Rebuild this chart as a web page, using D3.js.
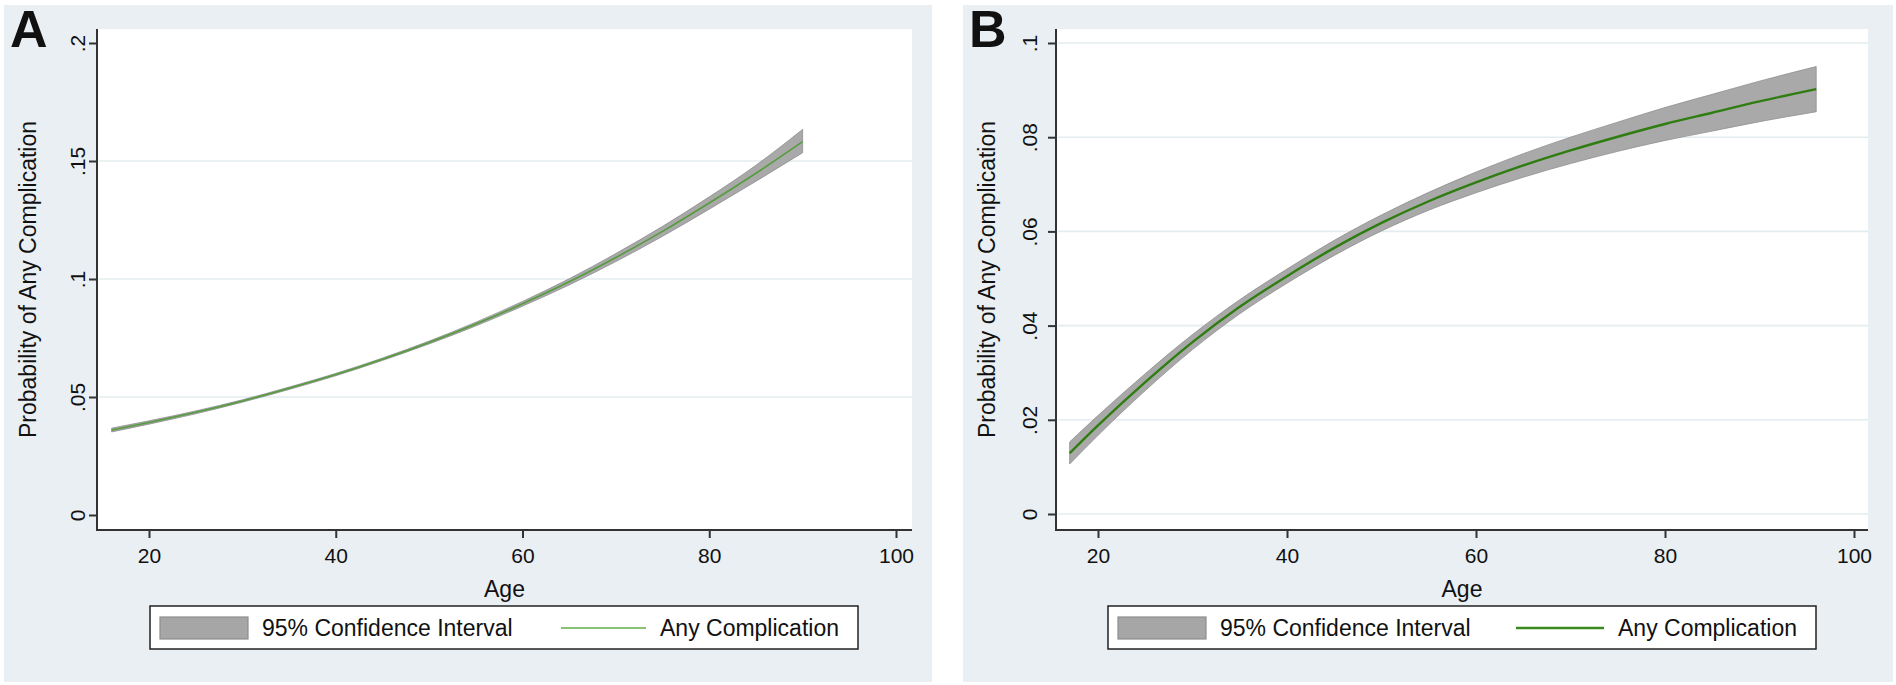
<!DOCTYPE html>
<html>
  <head>
    <title></title>
    <script src="https://cdnjs.cloudflare.com/ajax/libs/d3/7.8.5/d3.min.js"></script>
    <style>
      body { margin: 0; background: #fff; }
      text { font-family: "Liberation Sans", Arial, sans-serif; fill: #111; }
    </style>
  </head>
  <body>
    <script type="text/javascript">

    // panel A
    let agesA = [16, 20, 25, 30, 35, 40, 45, 50, 55, 60, 65, 70, 75, 80, 85, 90];
    let probA = [0.0360, 0.0392, 0.0435, 0.0483, 0.0537, 0.0595, 0.0660, 0.0731, 0.0809, 0.0895, 0.0988, 0.1091, 0.1202, 0.1322, 0.1448, 0.1582];
    let lowA  = [0.0352, 0.0385, 0.0429, 0.0478, 0.0532, 0.0590, 0.0655, 0.0725, 0.0801, 0.0885, 0.0975, 0.1074, 0.1181, 0.1296, 0.1414, 0.1535];
    let highA = [0.0368, 0.0399, 0.0441, 0.0488, 0.0542, 0.0600, 0.0665, 0.0737, 0.0817, 0.0905, 0.1001, 0.1108, 0.1223, 0.1348, 0.1482, 0.1634];

    // panel B
    let agesB = [17, 20, 25, 30, 35, 40, 45, 50, 55, 60, 65, 70, 75, 80, 85, 90, 96];
    let probB = [0.0129, 0.0188, 0.0280, 0.0365, 0.0440, 0.0505, 0.0565, 0.0618, 0.0664, 0.0704, 0.0740, 0.0772, 0.0801, 0.0828, 0.0852, 0.0876, 0.0902];
    let lowB  = [0.0106, 0.0167, 0.0262, 0.0349, 0.0425, 0.0490, 0.0549, 0.0601, 0.0645, 0.0682, 0.0715, 0.0744, 0.0770, 0.0793, 0.0813, 0.0833, 0.0854];
    let highB = [0.0153, 0.0209, 0.0298, 0.0381, 0.0455, 0.0520, 0.0581, 0.0635, 0.0683, 0.0726, 0.0765, 0.0800, 0.0832, 0.0863, 0.0891, 0.0919, 0.0950];

    let xTicks = [20, 40, 60, 80, 100];
    let yTicksA = [0, 0.05, 0.1, 0.15, 0.2];
    let yTicksB = [0, 0.02, 0.04, 0.06, 0.08, 0.1];
    let gridA = [0.05, 0.1, 0.15];
    let gridB = [0, 0.02, 0.04, 0.06, 0.08, 0.1];

    let fmt = v => v === 0 ? "0" : String(v).replace(/^0/, "");

    let svg = d3.select("body").append("svg")
      .attr("width", 1896)
      .attr("height", 685);

    let panels = [
      { letter: "A", bg: [4, 5, 932, 682], plot: [97, 29, 912, 530],
        x: d3.scaleLinear().domain([20, 100]).range([149, 896]),
        y: d3.scaleLinear().domain([0, 0.2]).range([515, 43]),
        ages: agesA, prob: probA, low: lowA, high: highA,
        yTicks: yTicksA, grid: gridA, labelOff: 12,
        lineColor: "#559c3d", lineWidth: 1.6, legColor: "#88c274", legWidth: 2,
        legend: [150, 606, 858, 649], legLine: [561, 646] },
      { letter: "B", bg: [963, 5, 1893, 682], plot: [1056, 29, 1868, 530],
        x: d3.scaleLinear().domain([20, 100]).range([1098, 1854]),
        y: d3.scaleLinear().domain([0, 0.1]).range([514, 43]),
        ages: agesB, prob: probB, low: lowB, high: highB,
        yTicks: yTicksB, grid: gridB, labelOff: 19,
        lineColor: "#2f7d10", lineWidth: 2.4, legColor: "#3b8a1e", legWidth: 2.6,
        legend: [1108, 606, 1816, 649], legLine: [1516, 1604] }
    ];

    panels.forEach(function(p) {
      let g = svg.append("g");
      let [x0, y0, x1, y1] = p.plot;

      g.append("rect")
        .attr("x", p.bg[0]).attr("y", p.bg[1])
        .attr("width", p.bg[2] - p.bg[0]).attr("height", p.bg[3] - p.bg[1])
        .attr("fill", "#e9eff2");

      g.append("rect")
        .attr("x", x0).attr("y", y0)
        .attr("width", x1 - x0).attr("height", y1 - y0)
        .attr("fill", "#fff");

      g.selectAll(".grid").data(p.grid).enter().append("line")
        .attr("x1", x0 + 2).attr("x2", x1)
        .attr("y1", d => p.y(d)).attr("y2", d => p.y(d))
        .attr("stroke", "#e3ecee").attr("stroke-width", 1.6);

      let rows = p.ages.map((a, i) => ({ age: a, p: p.prob[i], lo: p.low[i], hi: p.high[i] }));

      let area = d3.area().curve(d3.curveMonotoneX)
        .x(d => p.x(d.age)).y0(d => p.y(d.lo)).y1(d => p.y(d.hi));
      g.append("path").attr("d", area(rows))
        .attr("fill", "#a9a9a9").attr("stroke", "#8e8e8e").attr("stroke-width", 0.8);

      let line = d3.line().curve(d3.curveMonotoneX)
        .x(d => p.x(d.age)).y(d => p.y(d.p));
      g.append("path").attr("d", line(rows))
        .attr("fill", "none").attr("stroke", p.lineColor).attr("stroke-width", p.lineWidth);

      // axes
      let xAxis = g.append("g").attr("transform", "translate(0," + y1 + ")")
        .call(d3.axisBottom(p.x).tickValues(xTicks).tickSize(8).tickPadding(10));
      xAxis.select(".domain").remove();
      xAxis.selectAll("line").attr("stroke", "#333").attr("stroke-width", 2);
      xAxis.selectAll("text").attr("font-size", 21).attr("fill", "#111")
        .attr("font-family", "Liberation Sans, Arial, sans-serif");

      let yAxis = g.append("g").attr("transform", "translate(" + x0 + ",0)")
        .call(d3.axisLeft(p.y).tickValues(p.yTicks).tickSize(8).tickFormat(fmt));
      yAxis.select(".domain").remove();
      yAxis.selectAll("line").attr("stroke", "#333").attr("stroke-width", 2);
      yAxis.selectAll("text")
        .attr("x", 0).attr("dy", null)
        .attr("text-anchor", "middle")
        .attr("transform", "translate(" + (-p.labelOff) + ",0) rotate(-90)")
        .attr("font-size", 21).attr("fill", "#111")
        .attr("font-family", "Liberation Sans, Arial, sans-serif");

      g.append("line").attr("x1", x0).attr("x2", x0).attr("y1", y0).attr("y2", y1 + 1)
        .attr("stroke", "#333").attr("stroke-width", 2);
      g.append("line").attr("x1", x0 - 1).attr("x2", x1).attr("y1", y1).attr("y2", y1)
        .attr("stroke", "#333").attr("stroke-width", 2);

      g.append("text").text("Age")
        .attr("x", (x0 + x1) / 2).attr("y", 597)
        .attr("text-anchor", "middle").attr("font-size", 23);

      g.append("text").text("Probability of Any Complication")
        .attr("transform", "translate(" + (p.bg[0] + 32) + "," + ((y0 + y1) / 2) + ") rotate(-90)")
        .attr("text-anchor", "middle").attr("font-size", 23);

      g.append("text").text(p.letter)
        .attr("x", p.bg[0] + 6).attr("y", 47)
        .attr("font-size", 52).attr("font-weight", "bold").attr("fill", "#000");

      // legend
      let [lx0, ly0, lx1, ly1] = p.legend;
      let lg = g.append("g");
      lg.append("rect").attr("x", lx0).attr("y", ly0)
        .attr("width", lx1 - lx0).attr("height", ly1 - ly0)
        .attr("fill", "#fff").attr("stroke", "#222").attr("stroke-width", 1.5);
      lg.append("rect").attr("x", lx0 + 10).attr("y", ly0 + 11)
        .attr("width", 88).attr("height", 22)
        .attr("fill", "#a6a6a6").attr("stroke", "#8e8e8e").attr("stroke-width", 1.2);
      lg.append("text").text("95% Confidence Interval")
        .attr("x", lx0 + 112).attr("y", ly0 + 30).attr("font-size", 23);
      lg.append("line").attr("x1", p.legLine[0]).attr("x2", p.legLine[1])
        .attr("y1", ly0 + 22).attr("y2", ly0 + 22)
        .attr("stroke", p.legColor).attr("stroke-width", p.legWidth);
      lg.append("text").text("Any Complication")
        .attr("x", p.legLine[1] + 14).attr("y", ly0 + 30).attr("font-size", 23);
    });

    </script>
  </body>
</html>
